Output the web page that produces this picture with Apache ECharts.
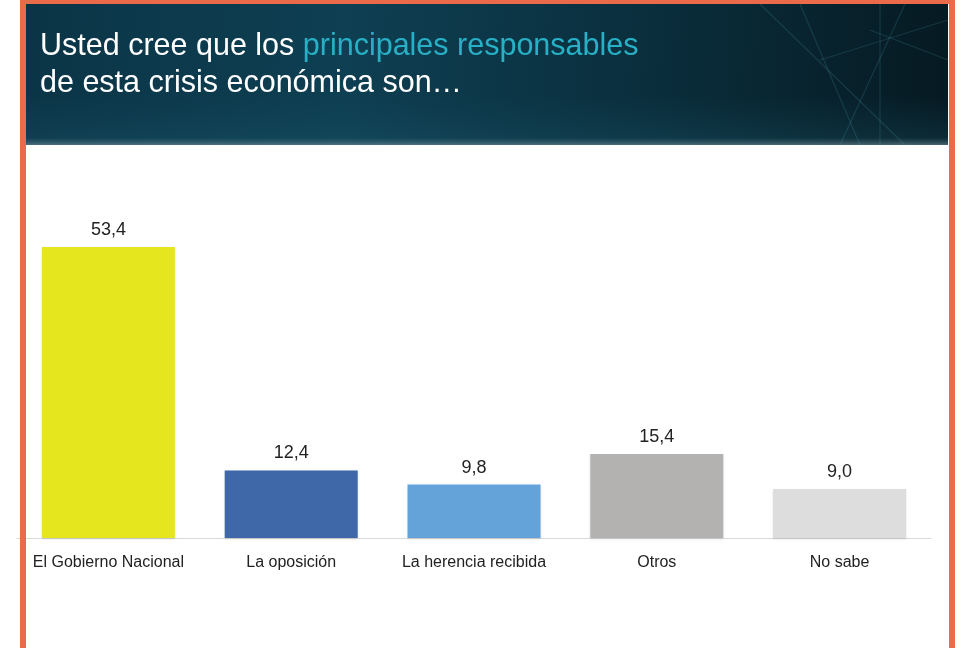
<!DOCTYPE html>
<html>
<head>
<meta charset="utf-8">
<script src="https://cdn.jsdelivr.net/npm/echarts@6/dist/echarts.min.js"></script>
<style>
html,body{margin:0;padding:0;background:#fff;}
#c{width:962px;height:648px;}
</style>
</head>
<body>
<div id="c"></div>
<script>
const categories = ['El Gobierno Nacional', 'La oposición', 'La herencia recibida', 'Otros', 'No sabe'];
const values = [53.4, 12.4, 9.8, 15.4, 9.0];
const barColors = ['#e6e61f', '#3f68a9', '#64a3d9', '#b4b1b1', '#dddddd'];

const chart = echarts.init(document.getElementById('c'), null, {renderer: 'canvas'});

const decoLines = [
  [[760, 4], [905, 145]], [[800, 4], [860, 145]], [[905, 4], [840, 145]],
  [[870, 30], [948, 60]], [[820, 60], [948, 20]], [[880, 4], [880, 145]]
];

const option = {
  backgroundColor: '#ffffff',
  animation: false,
  title: {
    left: 40,
    top: 28,
    padding: 0,
    text: '{w|Usted cree que los }{t|principales responsables}\n{w|de esta crisis económica son…}',
    textStyle: {
      fontWeight: 'normal',
      rich: {
        w: {color: '#ffffff', fontSize: 30.5, fontWeight: 'normal', fontFamily: 'Liberation Sans', lineHeight: 37},
        t: {color: '#27b0c6', fontSize: 30.5, fontWeight: 'normal', fontFamily: 'Liberation Sans', lineHeight: 37}
      }
    },
    z: 10
  },
  graphic: [
    {
      type: 'rect', z: -10, silent: true,
      shape: {x: 26, y: 4, width: 922, height: 141},
      style: {
        fill: new echarts.graphic.LinearGradient(0, 0, 1, 0.3, [
          {offset: 0, color: '#0b3547'},
          {offset: 0.35, color: '#0e3f52'},
          {offset: 0.7, color: '#0a2d3b'},
          {offset: 1, color: '#061a22'}
        ])
      }
    },
    {
      type: 'rect', z: -9, silent: true,
      shape: {x: 26, y: 95, width: 922, height: 50},
      style: {
        fill: new echarts.graphic.LinearGradient(0, 0, 0, 1, [
          {offset: 0, color: 'rgba(20,80,100,0)'},
          {offset: 0.85, color: 'rgba(30,90,110,0.25)'},
          {offset: 1, color: 'rgba(120,150,160,0.6)'}
        ])
      }
    },
    ...decoLines.map(l => ({
      type: 'line', z: -8, silent: true,
      shape: {x1: l[0][0], y1: l[0][1], x2: l[1][0], y2: l[1][1]},
      style: {stroke: 'rgba(90,170,190,0.18)', lineWidth: 1.2}
    })),
    {
      type: 'rect', z: 100, silent: true,
      shape: {x: 20, y: 0, width: 935, height: 4},
      style: {fill: '#ea6a4a'}
    },
    {
      type: 'rect', z: 100, silent: true,
      shape: {x: 20, y: 0, width: 6, height: 648},
      style: {fill: '#ea6a4a'}
    },
    {
      type: 'rect', z: 100, silent: true,
      shape: {x: 949, y: 0, width: 6, height: 648},
      style: {fill: '#ea6a4a'}
    }
  ],
  grid: {left: 17, width: 914, top: 211, bottom: 110, containLabel: false},
  xAxis: {
    type: 'category',
    data: categories,
    axisLine: {show: true, lineStyle: {color: '#d9d9d9', width: 1}},
    axisTick: {show: false},
    axisLabel: {color: '#222222', fontSize: 16, fontFamily: 'Liberation Sans', margin: 17, interval: 0}
  },
  yAxis: {
    type: 'value',
    min: 0,
    max: 60,
    show: false,
    splitLine: {show: false}
  },
  series: [{
    type: 'bar',
    data: values.map((v, i) => ({value: v, itemStyle: {color: barColors[i]}})),
    barWidth: 133,
    itemStyle: {shadowColor: 'rgba(0,0,0,0.12)', shadowBlur: 2, shadowOffsetY: 1},
    label: {
      show: true,
      position: 'top',
      distance: 8,
      color: '#222222',
      fontSize: 18,
      fontFamily: 'Liberation Sans',
      formatter: p => p.value.toFixed(1).replace('.', ',')
    }
  }]
};
chart.setOption(option);
</script>
</body>
</html>
